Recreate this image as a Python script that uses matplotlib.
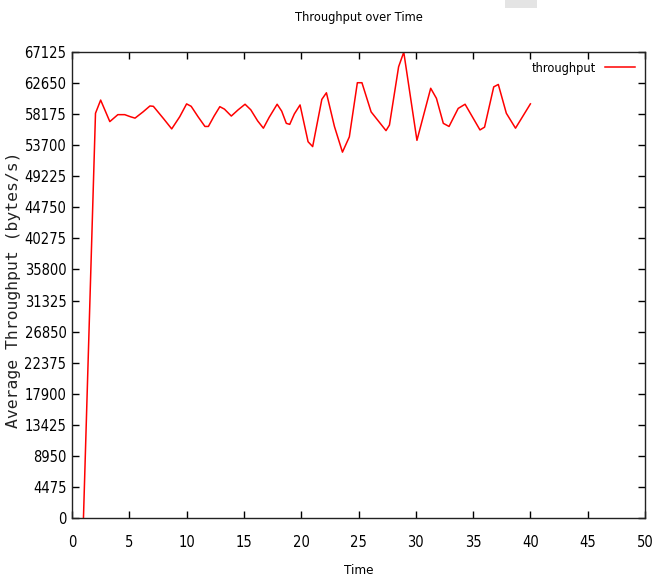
import matplotlib
matplotlib.use("Agg")
import matplotlib.pyplot as plt
from matplotlib.patches import Rectangle
from matplotlib import font_manager

# Average throughput samples (time in s, bytes/s)
time_s = [1.0, 2.05, 2.5, 3.3, 4.0, 4.6, 5.1, 5.5, 6.2, 6.8, 7.1, 8.0, 8.7, 9.4,
          10.0, 10.4, 11.0, 11.6, 11.9, 12.4, 12.9, 13.3, 13.9, 14.5, 15.1, 15.6,
          16.2, 16.7, 17.2, 17.9, 18.3, 18.7, 19.0, 19.4, 19.9, 20.6, 21.0, 21.8,
          22.2, 22.9, 23.6, 24.2, 24.9, 25.3, 26.1, 27.4, 27.7, 28.5, 28.95, 30.1,
          31.3, 31.8, 32.4, 32.9, 33.7, 34.3, 35.6, 36.0, 36.8, 37.2, 37.9, 38.7,
          40.0]
throughput = [0, 58300, 60200, 57100, 58100, 58100, 57800, 57600, 58500, 59350,
              59300, 57500, 56050, 57800, 59650, 59300, 57800, 56400, 56400, 57900,
              59250, 58900, 57900, 58800, 59600, 58800, 57200, 56150, 57700, 59600,
              58600, 56850, 56700, 58200, 59500, 54200, 53500, 60300, 61250, 56400,
              52700, 54900, 62700, 62700, 58500, 55800, 56600, 65000, 67100, 54400,
              61900, 60450, 56850, 56400, 59000, 59600, 55900, 56300, 62100, 62450,
              58300, 56150, 59650]

y_ticks = [0, 4475, 8950, 13425, 17900, 22375, 26850, 31325, 35800, 40275,
           44750, 49225, 53700, 58175, 62650, 67125]
x_ticks = [0, 5, 10, 15, 20, 25, 30, 35, 40, 45, 50]

# pick a condensed face when one is installed
names = {f.name for f in font_manager.fontManager.ttflist}
if "DejaVu Sans Condensed" in names:
    cond = dict(family="DejaVu Sans Condensed")
else:
    cond = dict(family="DejaVu Sans", stretch="condensed")

fig = plt.figure(figsize=(6.56, 5.77), dpi=100)
ax = fig.add_axes([72 / 656, 1 - 518 / 577, 573 / 656, 466 / 577])

ax.plot(time_s, throughput, color="#ff0000", linewidth=1.1, label="throughput")

ax.set_xlim(0, 50)
ax.set_ylim(0, 67125)
ax.set_xticks(x_ticks)
ax.set_yticks(y_ticks)
ax.set_xticklabels([str(v) for v in x_ticks], size=10.5, **cond)
ax.set_yticklabels([str(v) for v in y_ticks], size=10.5, **cond)
ax.tick_params(direction="in", length=5, width=1, top=True, right=True,
               colors="black")
ax.tick_params(axis="x", pad=12)
ax.tick_params(axis="y", pad=4)
for s in ax.spines.values():
    s.set_linewidth(1.0)
    s.set_color("#222222")

ax.text(0.5, (518 - 18) / 466, "Throughput over Time", transform=ax.transAxes,
        ha="center", va="center", size=9.2, **cond)
ax.set_xlabel("Time", size=9.5, **cond)
ax.xaxis.set_label_coords(0.5, (518 - 571) / 466)
ax.xaxis.label.set_va("center")
ax.set_ylabel("Average Throughput (bytes/s)", family="DejaVu Sans Mono",
              fontsize=11.8, color="#222222")
ax.yaxis.set_label_coords((14 - 72) / 573, 0.49)
ax.yaxis.label.set_va("center")

leg = ax.legend(loc="upper right", frameon=False, prop=dict(size=9.2, **cond),
                handlelength=2.4, handletextpad=0.7, borderaxespad=0.35,
                markerfirst=False)

fig.patches.append(Rectangle((505 / 656, 1 - 8 / 577), 32 / 656, 8 / 577,
                             transform=fig.transFigure, facecolor="#e4e4e4",
                             edgecolor="none"))

fig.savefig("out.png", dpi=100)
